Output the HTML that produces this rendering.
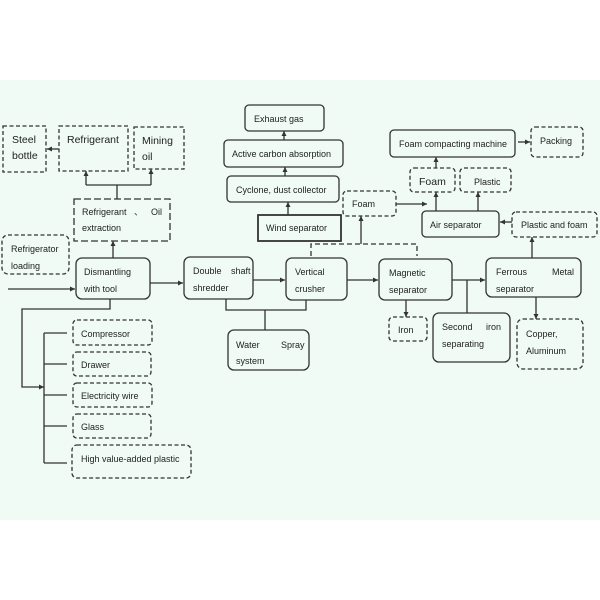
<!DOCTYPE html>
<html><head><meta charset="utf-8"><style>
html,body{margin:0;padding:0;background:#fff;}
svg{display:block;}
text{font-family:"Liberation Sans",sans-serif;font-size:9px;fill:#222;}
</style></head><body>
<svg width="600" height="600" viewBox="0 0 600 600" xmlns="http://www.w3.org/2000/svg">
<defs>
<marker id="a" markerWidth="6" markerHeight="6" refX="5" refY="3" orient="auto" markerUnits="userSpaceOnUse"><path d="M0,0.5 L5,3 L0,5.5z" fill="#333"/></marker>
</defs>
<rect x="0" y="80" width="600" height="440" fill="#effbf4"/>
<g fill="none" stroke="#333" stroke-width="1.3">
<!-- dashed boxes -->
<g stroke-dasharray="4,2.5">
<rect x="3" y="126" width="43" height="46"/>
<rect x="59" y="126" width="69" height="45"/>
<rect x="134" y="127" width="50" height="42"/>
<rect x="2" y="235" width="67" height="39" rx="6"/>
<rect x="343" y="191" width="53" height="25" rx="4"/>
<rect x="410" y="168" width="45" height="24" rx="4"/>
<rect x="460" y="168" width="51" height="24" rx="4"/>
<rect x="531" y="127" width="52" height="30" rx="4"/>
<rect x="512" y="212" width="85" height="25" rx="4"/>
<rect x="389" y="317" width="38" height="24" rx="4"/>
<rect x="517" y="319" width="66" height="50" rx="6"/>
<rect x="73" y="320" width="79" height="25" rx="4"/>
<rect x="73" y="352" width="78" height="24" rx="4"/>
<rect x="73" y="383" width="79" height="24" rx="4"/>
<rect x="73" y="414" width="78" height="24" rx="4"/>
<rect x="72" y="445" width="119" height="33" rx="5"/>
</g>
<rect x="74" y="199" width="96" height="42" stroke-dasharray="7,3"/>
<!-- solid boxes -->
<rect x="76" y="258" width="74" height="41" rx="6"/>
<rect x="184" y="257" width="69" height="42" rx="6"/>
<rect x="286" y="258" width="61" height="42" rx="6"/>
<rect x="379" y="259" width="73" height="41" rx="6"/>
<rect x="486" y="258" width="95" height="39" rx="6"/>
<rect x="245" y="105" width="79" height="26" rx="4"/>
<rect x="224" y="140" width="119" height="27" rx="4"/>
<rect x="227" y="176" width="112" height="26" rx="4"/>
<rect x="258" y="215" width="83" height="26" stroke-width="1.8"/>
<rect x="390" y="130" width="125" height="27" rx="4"/>
<rect x="422" y="211" width="77" height="26" rx="4"/>
<rect x="433" y="313" width="77" height="49" rx="6"/>
<rect x="228" y="330" width="81" height="40" rx="6"/>
<!-- connectors -->
<path d="M59,149 L47,149" marker-end="url(#a)"/>
<path d="M117,199 L117,185"/>
<path d="M86,185 L151,185"/>
<path d="M86,185 L86,171" marker-end="url(#a)"/>
<path d="M151,185 L151,169" marker-end="url(#a)"/>
<path d="M113,258 L113,241" marker-end="url(#a)"/>
<path d="M8,289 L75,289" marker-end="url(#a)"/>
<path d="M150,283 L183,283" marker-end="url(#a)"/>
<path d="M253,280 L285,280" marker-end="url(#a)"/>
<path d="M347,280 L378,280" marker-end="url(#a)"/>
<path d="M452,280 L485,280" marker-end="url(#a)"/>
<path d="M467,280 L467,313"/>
<path d="M406,300 L406,317" marker-end="url(#a)"/>
<path d="M536,297 L536,319" marker-end="url(#a)"/>
<path d="M532,258 L532,237" marker-end="url(#a)"/>
<path d="M512,222 L500,222" marker-end="url(#a)"/>
<path d="M436,211 L436,192" marker-end="url(#a)"/>
<path d="M478,211 L478,192" marker-end="url(#a)"/>
<path d="M436,168 L436,157" marker-end="url(#a)"/>
<path d="M518,142 L530,142" marker-end="url(#a)"/>
<path d="M396,204 L427,204" marker-end="url(#a)"/>
<path d="M361,244 L361,216" marker-end="url(#a)"/>
<path d="M311,256 L311,244 L417,244 L417,256" stroke-dasharray="5,3"/>
<path d="M288,215 L288,202" marker-end="url(#a)"/>
<path d="M285,176 L285,167" marker-end="url(#a)"/>
<path d="M284,140 L284,131" marker-end="url(#a)"/>
<path d="M226,299 L226,310 L306,310 L306,300"/>
<path d="M265,310 L265,330"/>
<path d="M110,299 L110,309 L22,309 L22,387 L44,387" marker-end="url(#a)"/>
<path d="M44,333 L44,463"/>
<path d="M44,333 L67,333 M44,364 L67,364 M44,395 L67,395 M44,426 L67,426 M44,463 L67,463"/>
</g>
<text x="12" y="143" style="font-size:10.5px">Steel</text>
<text x="12" y="159" style="font-size:10.5px">bottle</text>
<text x="67" y="143" style="font-size:10.5px">Refrigerant</text>
<text x="142" y="144" style="font-size:10.5px">Mining</text>
<text x="142" y="160" style="font-size:10.5px">oil</text>
<text x="82" y="215">Refrigerant</text><text x="134" y="215">、</text><text x="151" y="215">Oil</text>
<text x="82" y="231">extraction</text>
<text x="11" y="252">Refrigerator</text>
<text x="11" y="269">loading</text>
<text x="84" y="275">Dismantling</text>
<text x="84" y="292">with tool</text>
<text x="193" y="274">Double</text><text x="231" y="274">shaft</text>
<text x="193" y="291">shredder</text>
<text x="295" y="275">Vertical</text>
<text x="295" y="292">crusher</text>
<text x="389" y="276">Magnetic</text>
<text x="389" y="293">separator</text>
<text x="496" y="275">Ferrous</text><text x="552" y="275">Metal</text>
<text x="496" y="292">separator</text>
<text x="254" y="122">Exhaust gas</text>
<text x="232" y="157">Active carbon absorption</text>
<text x="236" y="193">Cyclone, dust collector</text>
<text x="266" y="231">Wind separator</text>
<text x="352" y="207">Foam</text>
<text x="399" y="147">Foam compacting machine</text>
<text x="540" y="144">Packing</text>
<text x="419" y="185" style="font-size:10.5px">Foam</text>
<text x="474" y="185">Plastic</text>
<text x="430" y="228">Air separator</text>
<text x="521" y="228">Plastic and foam</text>
<text x="398" y="333">Iron</text>
<text x="442" y="330">Second</text><text x="486" y="330">iron</text>
<text x="442" y="347">separating</text>
<text x="526" y="337">Copper,</text>
<text x="526" y="354">Aluminum</text>
<text x="236" y="348">Water</text><text x="281" y="348">Spray</text>
<text x="236" y="364">system</text>
<text x="81" y="337">Compressor</text>
<text x="81" y="368">Drawer</text>
<text x="81" y="399">Electricity wire</text>
<text x="81" y="430">Glass</text>
<text x="81" y="462">High value-added plastic</text>
</svg>
</body></html>
